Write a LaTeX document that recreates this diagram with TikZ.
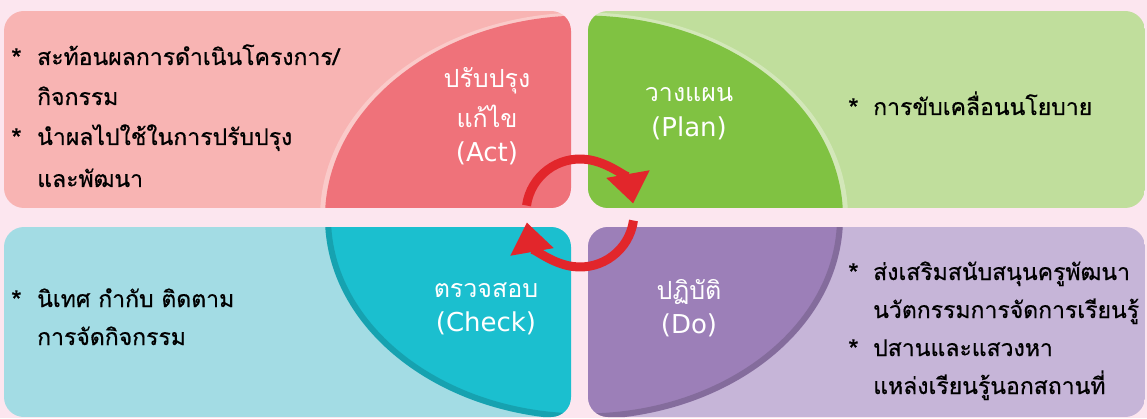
\documentclass[tikz,border=0pt]{standalone}
\usepackage{fontspec}
\setmainfont[Script=Thai]{Loma}
\newfontfamily\bulletfont[Script=Thai,FakeBold=0.6]{Loma}
\newfontfamily\latinfont{DejaVu Sans}
\usetikzlibrary{arrows.meta}
\definecolor{pageBg}{HTML}{FCE6EF}
\definecolor{actLight}{HTML}{F8B4B3}
\definecolor{actDark}{HTML}{EF727A}
\definecolor{planLight}{HTML}{C0DE9C}
\definecolor{planDark}{HTML}{80C242}
\definecolor{checkLight}{HTML}{A3DCE4}
\definecolor{checkDark}{HTML}{1BBFCF}
\definecolor{doLight}{HTML}{C6B5D8}
\definecolor{doDark}{HTML}{9C7FB8}
\definecolor{cycleRed}{HTML}{E2262B}

\begin{document}
\begin{tikzpicture}[x=1pt,y=1pt,
  bullet/.style={anchor=base west,inner sep=0pt,font=\bulletfont\fontsize{23}{27}\selectfont},
  star/.style={bullet,font=\bulletfont\fontsize{27}{27}\selectfont},
  stepname/.style={anchor=base,inner sep=0pt,text=white,font=\fontsize{25}{29}\selectfont},
  stepeng/.style={stepname,font=\latinfont\fontsize{26}{30}\selectfont},
  cyclearrow/.style={line width=9pt,draw=cycleRed,-{Triangle[width=42pt,length=30pt]}},
  glow/.style={white,opacity=.3,line width=6pt},
  shade/.style={black,opacity=.15,line width=6pt}]
%%% page background, fixes the size
\fill[pageBg] (0,0) rectangle (1147,418);
%
%%% Act box (top left) with its part of the big ellipse
\begin{scope}
\clip[rounded corners=20pt] (4,210) rectangle (571,407);
\fill[actLight] (4,210) rectangle (571,407);
\draw[glow] (584,200.5) ellipse [x radius=261, y radius=202];
\fill[actDark] (584,200.5) ellipse [x radius=259, y radius=202];
\end{scope}
%%% Plan box (top right)
\begin{scope}
\clip[rounded corners=20pt] (588,210) rectangle (1145,407);
\fill[planLight] (588,210) rectangle (1145,407);
\draw[glow] (584,200.5) ellipse [x radius=261, y radius=202];
\fill[planDark] (584,200.5) ellipse [x radius=259, y radius=202];
\end{scope}
%%% Check box (bottom left)
\begin{scope}
\clip[rounded corners=20pt] (4,1) rectangle (571,191);
\fill[checkLight] (4,1) rectangle (571,191);
\fill[checkDark] (584,200.5) ellipse [x radius=259, y radius=202];
\draw[shade] (584,200.5) ellipse [x radius=256, y radius=199];
\end{scope}
%%% Do box (bottom right)
\begin{scope}
\clip[rounded corners=20pt] (588,1) rectangle (1145,191);
\fill[doLight] (588,1) rectangle (1145,191);
\fill[doDark] (584,200.5) ellipse [x radius=259, y radius=202];
\draw[shade] (584,200.5) ellipse [x radius=256, y radius=199];
\end{scope}
%
%%% step names in the ellipse
\node[stepname] (actA) at (487,330) {ปรับปรุง};
\node[stepname] (actB) at (487,290) {แก้ไข};
\node[stepeng] (actC) at (487,256) {(Act)};
\node[stepname] (planA) at (689,316) {วางแผน};
\node[stepeng] (planB) at (689,281) {(Plan)};
\node[stepname] (checkA) at (486,121) {ตรวจสอบ};
\node[stepeng] (checkB) at (486,87) {(Check)};
\node[stepname] (doA) at (689,119) {ปฏิบัติ};
\node[stepeng] (doB) at (689,85) {(Do)};
%
%%% bullet texts
\node[star] (actStarA) at (11,350) {*};
\node[bullet] (actLineA) at (37,353) {สะท้อนผลการดำเนินโครงการ/};
\node[bullet] (actLineB) at (37,313) {กิจกรรม};
\node[star] (actStarB) at (11,270) {*};
\node[bullet] (actLineC) at (37,273) {นำผลไปใช้ในการปรับปรุง};
\node[bullet] (actLineD) at (37,231) {และพัฒนา};
\node[star] (planStar) at (848,300) {*};
\node[bullet] (planLine) at (873,303) {การขับเคลื่อนนโยบาย};
\node[star] (checkStar) at (11,108) {*};
\node[bullet] (checkLineA) at (37,111) {นิเทศ กำกับ ติดตาม};
\node[bullet] (checkLineB) at (37,73) {การจัดกิจกรรม};
\node[star] (doStarA) at (848,135) {*};
\node[bullet] (doLineA) at (873,138) {ส่งเสริมสนับสนุนครูพัฒนา};
\node[bullet] (doLineB) at (873,100) {นวัตกรรมการจัดการเรียนรู้};
\node[star] (doStarB) at (848,59) {*};
\node[bullet] (doLineC) at (873,62) {ปสานและแสวงหา};
\node[bullet] (doLineD) at (873,24) {แหล่งเรียนรู้นอกสถานที่};
%
%%% the two round arrows in the middle
\coordinate (hub) at (580,205);
\coordinate (topTail) at ([shift={(172:54)}]hub);
\coordinate (lowTail) at ([shift={(-8:54)}]hub);
\draw[cyclearrow] (topTail) arc[start angle=172, end angle=10, radius=54];
\draw[cyclearrow] (lowTail) arc[start angle=-8, end angle=-170, radius=54];
\end{tikzpicture}
\end{document}
